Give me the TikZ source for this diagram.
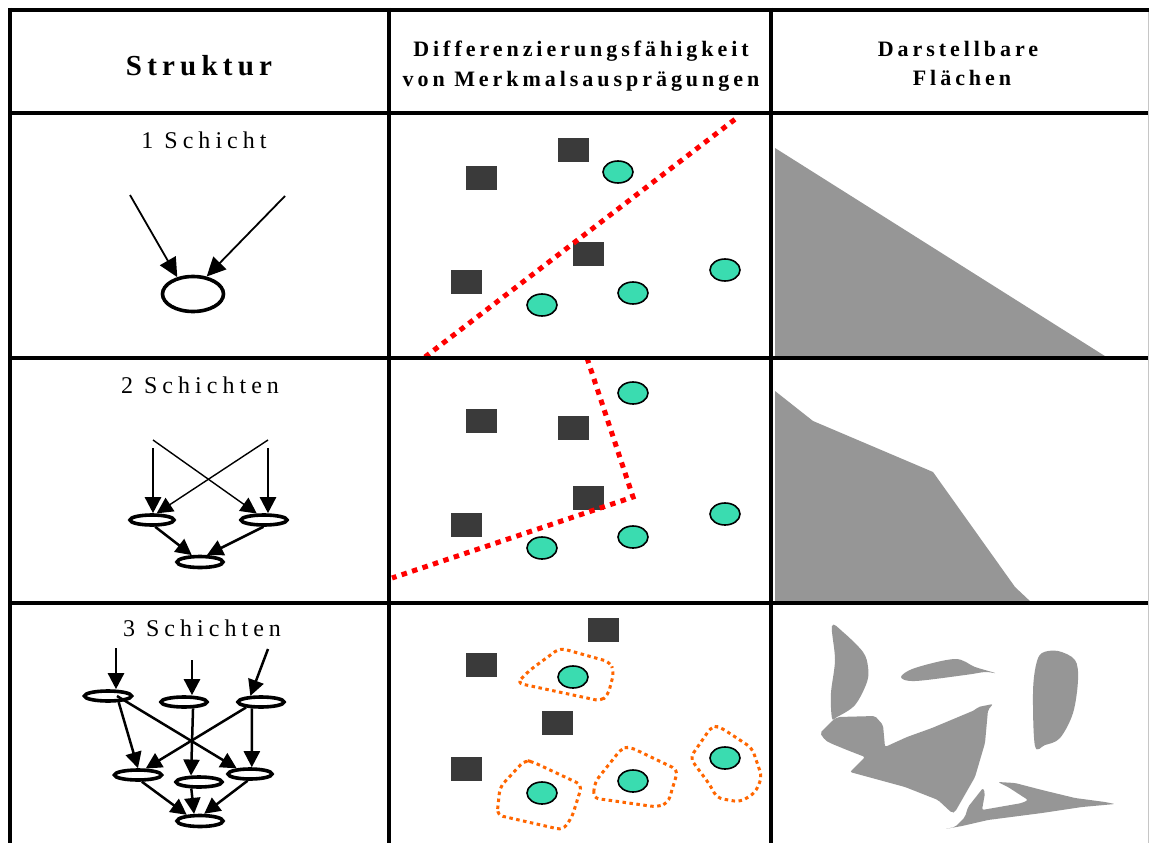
\documentclass[tikz,border=0pt]{standalone}
\usepackage{fontspec}
\setmainfont{Liberation Serif}
\newfontfamily\hdfont[LetterSpace=18]{Liberation Serif}
\newfontfamily\lbfont[LetterSpace=21]{Liberation Serif}
\usetikzlibrary{shapes.geometric,arrows.meta}
\definecolor{sqgray}{RGB}{58,58,58}
\definecolor{tealpt}{RGB}{58,220,176}
\definecolor{areagray}{RGB}{150,150,150}
\definecolor{orangeline}{RGB}{255,102,0}
\definecolor{redline}{RGB}{255,0,0}
\begin{document}
\begin{tikzpicture}[x=1pt,y=-1pt,
  gridh/.style={line width=4pt,black},
  gridv/.style={line width=4.5pt,black},
  sq/.style={rectangle,fill=sqgray,draw=none,minimum width=31pt,minimum height=24pt,inner sep=0pt},
  dot/.style={ellipse,fill=tealpt,draw=black,line width=1.6pt,minimum width=30pt,minimum height=22pt,inner sep=0pt},
  neuron/.style={ellipse,draw=black,fill=white,line width=3.6pt,inner sep=0pt,minimum width=44pt,minimum height=10pt},
  bigneuron/.style={neuron,minimum width=61pt,minimum height=35pt},
  arrbig/.style={-{Triangle[length=19pt,width=18pt]},line width=1.8pt},
  arrthin/.style={-{Triangle[length=16pt,width=16pt]},line width=1.4pt},
  arrmid/.style={-{Triangle[length=16pt,width=16pt]},line width=2.5pt},
  sepline/.style={draw=redline,line width=5pt,dash pattern=on 5.5pt off 5.5pt},
  hull/.style={draw=orangeline,line width=3pt,dash pattern=on 3.5pt off 3.5pt,rounded corners=6pt},
  area/.style={fill=areagray,draw=none},
  hdr/.style={anchor=base,font=\hdfont\bfseries\fontsize{22}{26}\selectfont,inner sep=0pt},
  lbl/.style={anchor=base,font=\lbfont\fontsize{24}{28}\selectfont,inner sep=0pt}
]
\useasboundingbox (0,0) rectangle (1149,843);
\fill[white] (0,0) rectangle (1149,843);

% ---------- right column: representable areas ----------
\fill[area] (775,148) -- (1108,358) -- (775,358) -- cycle;
\fill[area] (775,391) -- (813,421) -- (933,472) -- (1015,587) -- (1032,603) -- (775,603) -- cycle;
\fill[area] plot[smooth cycle,tension=0.55] coordinates {(832,626) (843,632) (863,652) (868,667) (867,682) (855,705) (837,717) (832,718) (831,693) (835,660)};
\fill[area] plot[smooth cycle,tension=0.55] coordinates {(901,677) (915,668) (955,659) (975,667) (995,673) (985,672) (965,675) (915,681)};
\fill[area] plot[smooth cycle,tension=0.55] coordinates {(1042,653) (1058,651) (1075,660) (1078,680) (1073,713) (1060,738) (1045,745) (1035,746) (1033,693) (1036,665)};
\fill[area,rounded corners=2pt] (820,733) -- (833,720) -- (838,717) -- (875,716) -- (883,725) -- (885,747) -- (907,737) -- (932,728) -- (975,710) -- (978,707) -- (993,704) -- (988,710) -- (985,743) -- (975,777) -- (955,812) -- (952,813) -- (938,800) -- (905,787) -- (850,772) -- (865,757) -- (847,750) -- (830,743) -- (825,740) -- cycle;
\fill[area,rounded corners=2pt] (945,829) -- (962,826) -- (975,823) -- (988,820) -- (1042,813) -- (1082,807) -- (1115,804) -- (1105,802) -- (1075,798) -- (1042,790) -- (1015,783) -- (998,782) -- (1008,787) -- (1028,800) -- (1022,803) -- (982,810) -- (985,793) -- (983,788) -- (968,807) -- (965,817) -- (955,827) -- cycle;

% ---------- middle column: squares ----------
\node[sq] (q11) at (573,150) {};
\node[sq] (q12) at (481,178) {};
\node[sq] (q13) at (588,254) {};
\node[sq] (q14) at (466,282) {};
\node[sq] (q21) at (481,421) {};
\node[sq] (q22) at (573,428) {};
\node[sq] (q23) at (588,498) {};
\node[sq] (q24) at (466,525) {};
\node[sq] (q31) at (603,630) {};
\node[sq] (q32) at (481,665) {};
\node[sq] (q33) at (557,723) {};
\node[sq] (q34) at (466,769) {};

% separating lines
\coordinate (r1a) at (425,357);
\coordinate (r1b) at (738,117);
\draw[sepline] (r1a) -- (r1b);
\coordinate (r2a) at (587,358);
\coordinate (r2b) at (633,497);
\coordinate (r2c) at (392,578);
\draw[sepline] (r2a) -- (r2b) -- (r2c);

% hulls
\draw[hull] (517,683) -- (530,670) -- (560,648) -- (610,662) -- (614,672) -- (608,695) -- (601,701) -- cycle;
\draw[hull] (497,815) -- (500,787) -- (525,760) -- (533,762) -- (582,785) -- (572,817) -- (563,830) -- cycle;
\draw[hull] (593,798) -- (595,782) -- (622,748) -- (630,747) -- (678,770) -- (668,803) -- (657,807) -- cycle;
\draw[hull] (690,758) -- (712,726) -- (720,727) -- (752,748) -- (762,777) -- (755,793) -- (740,802) -- (717,798) -- (710,785) -- cycle;

% circles
\node[dot] (c11) at (618,172) {};
\node[dot] (c12) at (542,305) {};
\node[dot] (c13) at (633,293) {};
\node[dot] (c14) at (725,270) {};
\node[dot] (c21) at (633,393) {};
\node[dot] (c22) at (542,548) {};
\node[dot] (c23) at (633,537) {};
\node[dot] (c24) at (725,514) {};
\node[dot] (c31) at (573,677) {};
\node[dot] (c32) at (542,793) {};
\node[dot] (c33) at (633,781) {};
\node[dot] (c34) at (725,758) {};

% ---------- grid ----------
\draw[gridh] (8,10) -- (1149,10);
\draw[gridh] (8,113) -- (1149,113);
\draw[gridh] (8,358) -- (1149,358);
\draw[gridh] (8,603) -- (1149,603);
\draw[gridv] (10,8) -- (10,843);
\draw[gridv] (389,8) -- (389,843);
\draw[gridv] (771,8) -- (771,843);
\draw[gray!45,line width=1pt] (1148.5,12) -- (1148.5,843);

% ---------- header ----------
\node[hdr,font=\hdfont\bfseries\fontsize{29}{33}\selectfont] (h1) at (199,76) {Struktur};
\node[hdr] (h2a) at (581,57) {Differenzierungsfähigkeit};
\node[hdr] (h2b) at (581,86) {von Merkmalsausprägungen};
\node[hdr] (h3a) at (958,57) {Darstellbare};
\node[hdr] (h3b) at (962,85) {Flächen};

% ---------- row labels ----------
\node[lbl] (l1) at (204,148) {1 Schicht};
\node[lbl] (l2) at (200,393) {2 Schichten};
\node[lbl] (l3) at (202,636) {3 Schichten};

% ---------- row 1 network ----------
\node[bigneuron] (e1) at (193,294) {};
\coordinate (s11) at (130,195);
\coordinate (s12) at (285,196);
\draw[arrbig] (s11) -- (e1.133);
\draw[arrbig] (s12) -- (e1.52);

% ---------- row 2 network ----------
\node[neuron] (L2) at (152,520) {};
\node[neuron,minimum width=46pt] (R2) at (264,520) {};
\node[neuron,minimum width=46pt,minimum height=11pt] (B2) at (200,562) {};
\coordinate (s21) at (153,440);
\coordinate (s22) at (268,440);
\coordinate (s23) at (153,448);
\coordinate (s24) at (268,448);
\draw[arrthin] (s21) -- (R2.138);
\draw[arrthin] (s22) -- (L2.55);
\draw[arrmid] (s23) -- (s23 |- L2.north);
\draw[arrmid] (s24) -- (s24 |- R2.north);
\draw[arrmid] (L2.-65) -- (B2.140);
\draw[arrmid] (R2.-95) -- (B2.45);

% ---------- row 3 network ----------
\node[neuron,minimum width=47pt] (T1) at (108,696) {};
\node[neuron,minimum width=46pt] (T2) at (184,702) {};
\node[neuron,minimum width=46pt] (T3) at (261,702) {};
\node[neuron,minimum width=47pt] (M1) at (138,775) {};
\node[neuron,minimum width=46pt] (M2) at (199,782) {};
\node[neuron,minimum width=44pt] (M3) at (250,774) {};
\node[neuron,minimum width=46pt,minimum height=11pt] (B3) at (200,821) {};
\coordinate (s31) at (116,648);
\coordinate (s32) at (192,660);
\coordinate (s33) at (268,649);
\draw[arrmid] (s31) -- (s31 |- T1.north);
\draw[arrmid] (s32) -- (s32 |- T2.north);
\draw[arrmid] (s33) -- (T3.150);
\draw[arrmid] (T1.-30) -- (M1.north);
\draw[arrmid] ([xshift=9pt]T1.center) -- (M3.157);
\draw[arrmid] (T2.-35) -- (M2.141);
\draw[arrmid] (T3.200) -- (M1.40);
\draw[arrmid] (T3.-145) -- (M3.75);
\draw[arrmid] (M1.-60) -- (B3.155);
\draw[arrmid] (M2.-140) -- (B3.130);
\draw[arrmid] (M3.-110) -- (B3.60);
\end{tikzpicture}
\end{document}
